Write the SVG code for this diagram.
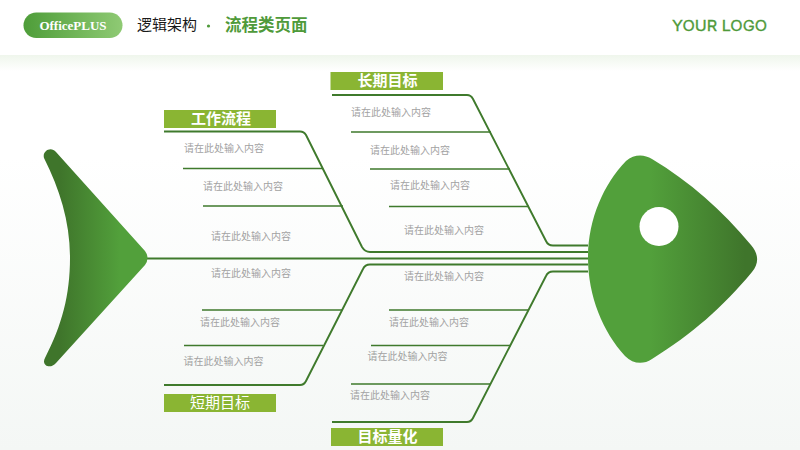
<svg xmlns="http://www.w3.org/2000/svg" width="800" height="450" viewBox="0 0 800 450">
<style>
.bone{fill:none;stroke:#3f7a2c;stroke-width:1.7;stroke-linejoin:round}
.main{stroke-width:1.9}
.t{font-family:"Noto Sans CJK SC","Liberation Sans",sans-serif;font-size:10px;fill:#a2a2a2;dominant-baseline:central}
.lab{fill:#8ab533}
.lt{font-family:"Noto Sans CJK SC","Liberation Sans",sans-serif;font-size:15px;font-weight:700;fill:#fff;text-anchor:middle;dominant-baseline:central}
</style>
<defs>
<linearGradient id="bg" x1="0" y1="0" x2="0" y2="1"><stop offset="0" stop-color="#fff"/><stop offset="0.35" stop-color="#fff"/><stop offset="1" stop-color="#f4f7f5"/></linearGradient>
<linearGradient id="band" x1="0" y1="0" x2="0" y2="1"><stop offset="0" stop-color="#eff6ec"/><stop offset="1" stop-color="#fff"/></linearGradient>
<linearGradient id="pill" x1="0" y1="0" x2="1" y2="0"><stop offset="0" stop-color="#4e9d39"/><stop offset="1" stop-color="#8fca74"/></linearGradient>
<linearGradient id="tail" gradientUnits="userSpaceOnUse" x1="60" y1="0" x2="120" y2="0"><stop offset="0" stop-color="#3f752b"/><stop offset="1" stop-color="#52a03b"/></linearGradient>
<linearGradient id="head" gradientUnits="userSpaceOnUse" x1="650" y1="0" x2="745" y2="0"><stop offset="0" stop-color="#52a03b"/><stop offset="1" stop-color="#3f752b"/></linearGradient>
</defs>
<rect width="800" height="450" fill="url(#bg)"/>
<rect y="55" width="800" height="16" fill="url(#band)"/>
<g id="header">
<rect x="23.500" y="12.500" width="99" height="25.500" rx="12.750" fill="url(#pill)"/>
<text x="73" y="25" text-anchor="middle" dominant-baseline="central" font-family="Liberation Serif,serif" font-weight="700" font-size="13" fill="#fff">OfficePLUS</text>
<text x="137" y="23.500" dominant-baseline="central" font-family="Noto Sans CJK SC,sans-serif" font-size="15" fill="#1a1a1a">逻辑架构</text>
<circle cx="208.500" cy="26" r="1.600" fill="#4f9a3a"/>
<text x="225" y="24" dominant-baseline="central" font-family="Noto Sans CJK SC,sans-serif" font-weight="700" font-size="16.500" fill="#4f9a3a">流程类页面</text>
<text x="672" y="25.500" dominant-baseline="central" font-family="Inter,sans-serif" font-weight="400" font-size="15" fill="#4f9a3a" stroke="#4f9a3a" stroke-width="0.300" textLength="95" lengthAdjust="spacingAndGlyphs">YOUR LOGO</text>
</g>
<g id="connectors">
<path class="bone main" d="M147 258.500H588"/>
<path class="bone main" d="M332 95H467Q471 95 473 99L546 241Q548 245.500 553 245.500H588"/>
<path class="bone main" d="M164 131.500H300Q304 131.500 306 135L362 247Q365 252 370 252H588"/>
<path class="bone main" d="M164 385H300Q304 385 306 381L363 269Q365 264.500 370 264.500H588"/>
<path class="bone main" d="M332 422H467Q471 422 473 418L546 276Q548 271.500 553 271.500H588"/>
<path class="bone" d="M351 132H491M370 169H510M389 206.500H529"/>
<path class="bone" d="M183 168.500H323M203 206H343"/>
<path class="bone" d="M202 310H342M184 345.500H323"/>
<path class="bone" d="M389 310H529M371 345.500H511M351 384H491"/>
</g>
<g id="tail"><path d="M44 158C42 151 51 146 56 152L145 251Q150 258 145 265L56 363C50 370 41 365 45 358C62 325 70 295 70 258C70 222 60 190 44 158Z" fill="url(#tail)"/></g>
<g id="head"><path d="M588 258C588 220 603 185 626 161C634 154 644 154 652 159C690 182 722 210 751 245C759 254 759 264 752 272C722 308 692 334 652 359C643 365 633 364 625 356C603 332 588 296 588 258Z" fill="url(#head)"/><circle cx="659" cy="226.500" r="19.500" fill="#fff"/></g>
<g id="label-gongzuo"><rect class="lab" x="164" y="110" width="112" height="18"/><text class="lt" x="221" y="117.500">工作流程</text></g>
<g id="label-changqi"><rect class="lab" x="330.500" y="72" width="112.500" height="18"/><text class="lt" x="387.500" y="79.500">长期目标</text></g>
<g id="label-duanqi"><rect class="lab" x="164" y="394" width="112" height="18"/><text class="lt" x="220" y="401.500" style="font-weight:400">短期目标</text></g>
<g id="label-mubiao"><rect class="lab" x="331" y="428" width="112" height="18"/><text class="lt" x="387.500" y="435.500">目标量化</text></g>
<g id="texts">
<text class="t" x="184" y="147">请在此处输入内容</text>
<text class="t" x="203" y="185">请在此处输入内容</text>
<text class="t" x="211" y="235.500">请在此处输入内容</text>
<text class="t" x="211" y="272">请在此处输入内容</text>
<text class="t" x="200" y="321.500">请在此处输入内容</text>
<text class="t" x="183.500" y="360">请在此处输入内容</text>
<text class="t" x="351" y="111">请在此处输入内容</text>
<text class="t" x="370" y="149.500">请在此处输入内容</text>
<text class="t" x="390" y="184.500">请在此处输入内容</text>
<text class="t" x="404" y="229.500">请在此处输入内容</text>
<text class="t" x="404" y="275.500">请在此处输入内容</text>
<text class="t" x="389" y="321">请在此处输入内容</text>
<text class="t" x="367.500" y="355.500">请在此处输入内容</text>
<text class="t" x="350" y="394">请在此处输入内容</text>
</g>
</svg>
